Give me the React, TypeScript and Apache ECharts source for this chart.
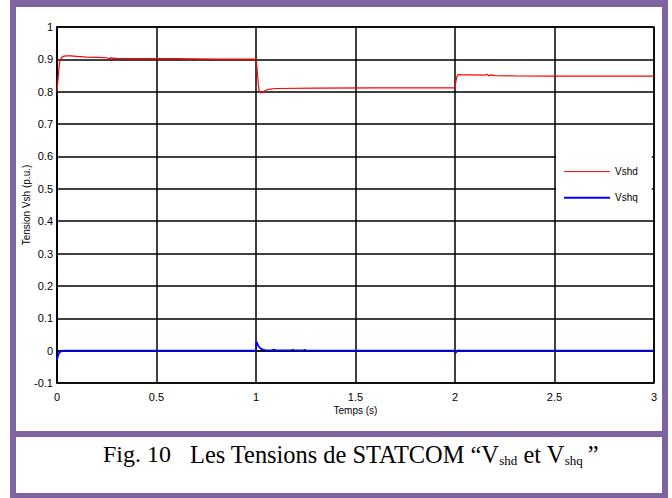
import React, { useEffect, useRef } from "react";
import * as echarts from "echarts";

// Vshd (red)
const timeD = [0, 0.004, 0.008, 0.012, 0.016, 0.022, 0.03, 0.045, 0.07, 0.1, 0.15, 0.2, 0.25, 0.265, 0.27, 0.275, 0.28, 0.3, 0.4, 0.6, 0.8, 1.0,
  1.004, 1.008, 1.012, 1.016, 1.022, 1.03, 1.045, 1.06, 1.1, 1.3, 1.6, 2.0,
  2.004, 2.008, 2.012, 2.018, 2.03, 2.08, 2.15, 2.16, 2.17, 2.18, 2.2, 2.3, 2.5, 2.8, 3.0];
const valuesD = [0.8, 0.83, 0.86, 0.885, 0.897, 0.905, 0.909, 0.911, 0.911, 0.909, 0.907, 0.906, 0.905, 0.902, 0.906, 0.903, 0.904, 0.903, 0.902, 0.902, 0.901, 0.901,
  0.88, 0.85, 0.82, 0.802, 0.796, 0.798, 0.803, 0.807, 0.81, 0.811, 0.812, 0.812,
  0.83, 0.843, 0.85, 0.853, 0.852, 0.852, 0.851, 0.854, 0.849, 0.852, 0.85, 0.849, 0.848, 0.848, 0.848];

// Vshq (blue)
const timeQ = [0, 0.004, 0.008, 0.012, 0.018, 0.025, 0.035, 0.5, 1.0,
  1.002, 1.005, 1.01, 1.016, 1.024, 1.035, 1.05, 1.08, 1.09, 1.1, 1.12, 1.18, 1.185, 1.19, 1.24, 1.245, 1.25, 1.3, 2.0,
  2.003, 2.008, 2.015, 2.025, 2.5, 3.0];
const valuesQ = [-0.028, -0.018, -0.011, -0.006, -0.003, -0.001, 0, 0, 0,
  0.028, 0.024, 0.017, 0.011, 0.006, 0.003, 0.001, 0.001, 0.003, 0.001, 0.001, 0.001, 0.003, 0.001, 0.001, 0.003, 0.001, 0, 0,
  -0.007, -0.003, 0.001, 0, 0, 0];

const seriesNames = ["Vshd", "Vshq"];
const yAxisTitle = "Tension Vsh (p.u.)";
const xAxisTitle = "Temps (s)";

const PURPLE = "#8064a2";
const SANS = "'Liberation Sans', Arial, Helvetica, sans-serif";
const SERIF = "'Liberation Serif', 'Times New Roman', serif";

export default function App() {
  const ref = useRef<HTMLDivElement>(null);
  useEffect(() => {
    if (!ref.current) return;
    const chart = echarts.init(ref.current, null, { renderer: "svg" });
    const fmt = (v: number) => String(Math.round(v * 10) / 10);
    chart.setOption({
      animation: false,
      backgroundColor: "#fff",
      grid: {
        left: 57, right: 18, top: 27, bottom: 115,
        show: true, borderColor: "#000", borderWidth: 1.5, backgroundColor: "transparent",
      },
      legend: {
        data: [
          { name: seriesNames[0], lineStyle: { width: 1, color: "#ff0000" } },
          { name: seriesNames[1], lineStyle: { width: 2, color: "#0000ff" } },
        ],
        orient: "vertical",
        left: 556, top: 140,
        padding: [26, 14, 10, 7],
        itemWidth: 46, itemHeight: 14, itemGap: 15,
        itemStyle: { opacity: 0 },
        backgroundColor: "#fff",
        textStyle: { fontSize: 10, color: "#000", fontFamily: SANS },
      },
      xAxis: {
        type: "value", min: 0, max: 3, interval: 0.5,
        name: xAxisTitle, nameLocation: "middle", nameGap: 22, nameMoveOverlap: false,
        nameTextStyle: { fontSize: 10, color: "#000", fontFamily: SANS },
        axisLine: { show: true, lineStyle: { color: "#000", width: 1.5 } },
        axisTick: { show: false },
        axisLabel: { fontSize: 11, color: "#000", fontFamily: SANS, margin: 8, formatter: fmt },
        splitLine: { show: true, lineStyle: { color: "#000", width: 1.5 } },
      },
      yAxis: {
        type: "value", min: -0.1, max: 1, interval: 0.1,
        name: yAxisTitle, nameLocation: "middle", nameGap: 26, nameMoveOverlap: false,
        nameTextStyle: { fontSize: 10, color: "#000", fontFamily: SANS },
        axisLine: { show: true, lineStyle: { color: "#000", width: 1.5 } },
        axisTick: { show: false },
        axisLabel: { fontSize: 11, color: "#000", fontFamily: SANS, margin: 4, formatter: fmt },
        splitLine: { show: true, lineStyle: { color: "#000", width: 1.5 } },
      },
      series: [
        {
          name: seriesNames[0], type: "line", symbol: "none", z: 3,
          data: timeD.map((t, i) => [t, valuesD[i]]),
          lineStyle: { color: "#ff0000", width: 1.2 },
          itemStyle: { color: "#ff0000" },
        },
        {
          name: seriesNames[1], type: "line", symbol: "none", z: 4,
          data: timeQ.map((t, i) => [t, valuesQ[i]]),
          lineStyle: { color: "#0000ff", width: 1.8 },
          itemStyle: { color: "#0000ff" },
        },
      ],
      graphic: [
        { type: "rect", shape: { x: 10, y: 0, width: 658, height: 7 }, style: { fill: PURPLE }, z: 100 },
        { type: "rect", shape: { x: 10, y: 0, width: 6, height: 498 }, style: { fill: PURPLE }, z: 100 },
        { type: "rect", shape: { x: 662, y: 0, width: 6, height: 498 }, style: { fill: PURPLE }, z: 100 },
        { type: "rect", shape: { x: 10, y: 431, width: 658, height: 6 }, style: { fill: PURPLE }, z: 100 },
        { type: "rect", shape: { x: 10, y: 493, width: 658, height: 5 }, style: { fill: PURPLE }, z: 100 },
        {
          type: "text", x: 103, y: 454, z: 100,
          style: { text: "Fig. 10", font: `24px ${SERIF}`, fill: "#000", verticalAlign: "middle", align: "left" },
        },
        {
          type: "text", x: 190, y: 454, z: 100,
          style: {
            text: "{m|Les Tensions de STATCOM \u201cV}{s|shd}{m| et V}{s|shq}{m|\u2009\u201d}",
            verticalAlign: "middle", align: "left",
            rich: {
              m: { fontSize: 24.4, fontFamily: SERIF, lineHeight: 25, fill: "#000", verticalAlign: "bottom" },
              s: { fontSize: 13, fontFamily: SERIF, lineHeight: 8, fill: "#000", verticalAlign: "bottom" },
            },
          },
        },
      ],
    });
    return () => chart.dispose();
  }, []);
  return (
    <div
      ref={ref}
      style={{ position: "absolute", left: 0, top: 0, width: 672, height: 498, background: "#fff" }}
    />
  );
}
